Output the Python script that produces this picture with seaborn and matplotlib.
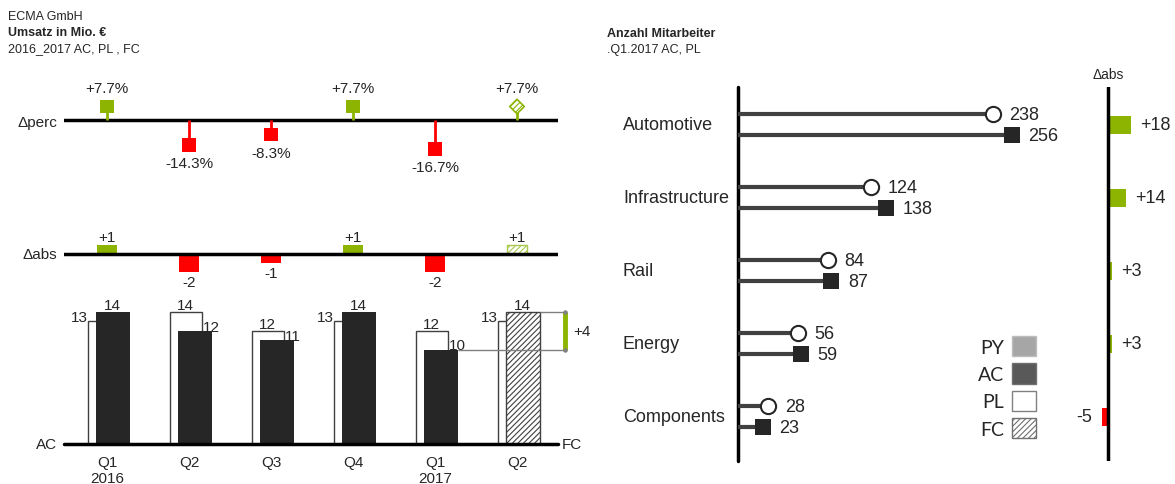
import numpy as np
import pandas as pd
import matplotlib
matplotlib.use("Agg")
import matplotlib.pyplot as plt
import matplotlib.transforms as mtrans
from matplotlib.patches import Patch
import seaborn as sns

# Umsatz in Mio. EUR
quarters = ["Q1\n2016", "Q2", "Q3", "Q4", "Q1\n2017", "Q2"]
plan = [13, 14, 12, 13, 12, 13]
actual = [14, 12, 11, 14, 10, 14]  # last value is FC
d_abs = [1, -2, -1, 1, -2, 1]
d_perc = [7.7, -14.3, -8.3, 7.7, -16.7, 7.7]
fc_gap = 4

# Anzahl Mitarbeiter
segments = ["Automotive", "Infrastructure", "Rail", "Energy", "Components"]
emp_pl = [238, 124, 84, 56, 28]
emp_ac = [256, 138, 87, 59, 23]
emp_delta = [18, 14, 3, 3, -5]

GREEN = "#8CB400"
RED = "#FF0000"
DARK = "#262626"
LINE = "#404040"

sns.set_theme(style="white")
plt.rcParams["font.family"] = ["Liberation Sans", "DejaVu Sans"]
plt.rcParams["hatch.linewidth"] = 0.8

W, H = 1175, 485
fig = plt.figure(figsize=(W / 100, H / 100), dpi=100)


def px_axes(x0, y0, x1, y1):
    ax = fig.add_axes([x0 / W, 1 - y1 / H, (x1 - x0) / W, (y1 - y0) / H])
    ax.set_axis_off()
    return ax


# headers
fig.text(8 / W, 1 - 17 / H, "ECMA GmbH", fontsize=9, va="center")
fig.text(8 / W, 1 - 33 / H, "Umsatz in Mio. €", fontsize=9, fontweight="bold", va="center")
fig.text(8 / W, 1 - 49 / H, "2016_2017 AC, PL , FC", fontsize=9, va="center")
fig.text(607 / W, 1 - 34 / H, "Anzahl Mitarbeiter", fontsize=9, fontweight="bold", va="center")
fig.text(607 / W, 1 - 50 / H, ".Q1.2017 AC, PL", fontsize=9, va="center")

X0, STEP = 107, 82
LX0, LX1 = 64, 558
xlim = ((LX0 - X0) / STEP, (LX1 - X0) / STEP)
xs = np.arange(len(quarters))
sign_col = lambda v: GREEN if v > 0 else RED
label_x = (57 - X0) / STEP

# ---- delta percent
ax = px_axes(LX0, 80, LX1, 180)
pp = 1.75
ax.axhline(0, color="black", lw=2.5)
cols = [sign_col(v) for v in d_perc]
ax.vlines(xs, 0, d_perc, colors=cols, lw=2)
dfp = pd.DataFrame({"x": xs[:5], "y": d_perc[:5], "c": cols[:5]})
sns.scatterplot(data=dfp, x="x", y="y", hue="c", palette={GREEN: GREEN, RED: RED},
                marker="s", s=95, linewidth=0, legend=False, ax=ax, zorder=3)
ax.scatter([xs[5]], [d_perc[5]], marker="D", s=55, facecolor="white",
           edgecolor=GREEN, hatch="//////", lw=1.2, zorder=3)
for x, v in zip(xs, d_perc):
    off = 8 if v > 0 else -8
    ax.annotate(f"{v:+.1f}%", (x, v), xytext=(0, off), textcoords="offset points",
                ha="center", va="bottom" if v > 0 else "top", fontsize=11)
ax.text(label_x, -1, "Δperc", ha="right", va="center", fontsize=11)
ax.set_xlim(*xlim)
ax.set_ylim(-(180 - 121) / pp, (121 - 80) / pp)
ax.set_axis_off()

# ---- delta abs
ax = px_axes(LX0, 220, LX1, 295)
pa = 9
ax.axhline(0, color="black", lw=2.5, zorder=3)
ax.bar(xs[:5], d_abs[:5], width=0.245, color=[sign_col(v) for v in d_abs[:5]], lw=0)
ax.bar(xs[5], d_abs[5], width=0.245, facecolor="white", edgecolor="#A8C94A",
       hatch="//////", lw=1)
for x, v in zip(xs, d_abs):
    ax.annotate(f"{v:+d}", (x, v), xytext=(0, 1 if v > 0 else -2), textcoords="offset points",
                ha="center", va="bottom" if v > 0 else "top", fontsize=11)
ax.text(label_x, 0, "Δabs", ha="right", va="center", fontsize=11)
ax.set_xlim(*xlim)
ax.set_ylim(-(295 - 255) / pa, (255 - 220) / pa)

# ---- bars AC / PL / FC
ax = px_axes(LX0, 290, LX1, 445)
pb = 9.43
pl_off, pl_w = -0.04, 0.39
ac_off, ac_w = 0.07, 0.41
ax.bar(xs + pl_off, plan, width=pl_w, facecolor="white", edgecolor=LINE, lw=1, zorder=1)
sns.barplot(x=xs[:5] + ac_off, y=actual[:5], native_scale=True, width=ac_w,
            color=DARK, saturation=1, linewidth=0, ax=ax, zorder=2)
ax.bar(xs[5] + ac_off, actual[5], width=ac_w, facecolor="white", edgecolor=LINE,
       hatch="//////", lw=1, zorder=2)
ax.axhline(0, color="black", lw=2.5, clip_on=False, zorder=4)
for x, p, a in zip(xs, plan, actual):
    if a >= p:
        ax.annotate(str(a), (x + ac_off, a), xytext=(0, 0), textcoords="offset points",
                    ha="center", va="bottom", fontsize=11)
        ax.annotate(str(p), (x + pl_off - pl_w / 2, p), xytext=(0, -2), textcoords="offset points",
                    ha="right", va="bottom", fontsize=11)
    else:
        ax.annotate(str(p), (x + pl_off, p), xytext=(0, 0), textcoords="offset points",
                    ha="center", va="bottom", fontsize=11)
        ax.annotate(str(a), (x + pl_off + pl_w / 2, a), xytext=(1, -2), textcoords="offset points",
                    ha="left", va="bottom", fontsize=11)
    ax.annotate(quarters[list(xs).index(x)], (x, 0), xytext=(0, -8), textcoords="offset points",
                ha="center", va="top", fontsize=11, linespacing=1.15)
ax.text(label_x, 0, "AC", ha="right", va="center", fontsize=11)
ax.text((562 - X0) / STEP, 0, "FC", ha="left", va="center", fontsize=11)
gx = (565 - X0) / STEP
ax.hlines(actual[4], xs[4] + ac_off + ac_w / 2, gx, color="#808080", lw=1, zorder=3, clip_on=False)
ax.hlines(actual[5], xs[5] + ac_off + ac_w / 2, gx, color="#808080", lw=1, zorder=3, clip_on=False)
ax.vlines(gx, actual[4], actual[5], color=GREEN, lw=3.5, zorder=4, clip_on=False)
ax.scatter([gx, gx], [actual[4], actual[5]], s=5, color="#808080", zorder=5, clip_on=False)
ax.annotate(f"+{fc_gap}", (gx, (actual[4] + actual[5]) / 2), xytext=(6, 0),
            textcoords="offset points", ha="left", va="center", fontsize=11,
            annotation_clip=False)
ax.set_xlim(*xlim)
ax.set_ylim(0, (445 - 290) / pb)
ax.set_axis_off()

# ---- Mitarbeiter lollipops
ys = np.arange(len(segments))
ax = px_axes(738, 88, 1080, 462)
pe = 1.07
ax.axvline(0, color="black", lw=2.5, clip_on=False)
ax.hlines(ys - 0.15, 0, emp_pl, color=LINE, lw=3)
ax.hlines(ys + 0.14, 0, emp_ac, color=LINE, lw=3)
sns.scatterplot(x=emp_pl, y=ys - 0.15, marker="o", s=120, color="white",
                edgecolor=DARK, linewidth=1.5, ax=ax, zorder=3)
sns.scatterplot(x=emp_ac, y=ys + 0.14, marker="s", s=130, color=DARK,
                linewidth=0, ax=ax, zorder=3)
for y, a, b in zip(ys, emp_pl, emp_ac):
    ax.annotate(str(a), (a, y - 0.15), xytext=(12, 0), textcoords="offset points",
                va="center", fontsize=13)
    ax.annotate(str(b), (b, y + 0.14), xytext=(12, 0), textcoords="offset points",
                va="center", fontsize=13)
tr = mtrans.blended_transform_factory(fig.transFigure, ax.transData)
for y, s in zip(ys, segments):
    ax.text(623 / W, y, s, transform=tr, ha="left", va="center", fontsize=13)
ax.set_xlim(0, (1080 - 738) / pe)
ax.set_ylim((462 - 126) / 73, (88 - 126) / 73)
ax.set_axis_off()

# ---- Mitarbeiter delta abs
ax = px_axes(1080, 88, 1175, 462)
pd_ = 1.27
ax.axvline(0, color="black", lw=2.5)
ax.barh(ys, emp_delta, height=0.25, color=[sign_col(v) for v in emp_delta], lw=0)
for y, v in zip(ys, emp_delta):
    ax.annotate(f"{v:+d}", (v, y), xytext=(7 if v > 0 else -7, 0), textcoords="offset points",
                ha="left" if v > 0 else "right", va="center", fontsize=13)
ax.annotate("Δabs", (0, (88 - 126) / 73), xytext=(0, 4), textcoords="offset points",
            ha="center", va="bottom", fontsize=10, annotation_clip=False)
ax.set_xlim((1080 - 1108) / pd_, (1175 - 1108) / pd_)
ax.set_ylim((462 - 126) / 73, (88 - 126) / 73)

# ---- legend
handles = [Patch(facecolor="#A6A6A6", edgecolor="#BDBDBD"),
           Patch(facecolor="#595959", edgecolor="#707070"),
           Patch(facecolor="white", edgecolor="#808080"),
           Patch(facecolor="white", edgecolor="#707070", hatch="//////")]
fig.legend(handles, ["PY", "AC", "PL", "FC"], markerfirst=False, frameon=False,
           loc="upper right", bbox_to_anchor=(1036 / W, 1 - 337 / H),
           borderpad=0, borderaxespad=0, handlelength=1.23, handleheight=1.23,
           handletextpad=0.4, labelspacing=0.36,
           prop={"family": ["Lato", "DejaVu Sans"], "size": 14})

fig.savefig("out.png", dpi=100)
